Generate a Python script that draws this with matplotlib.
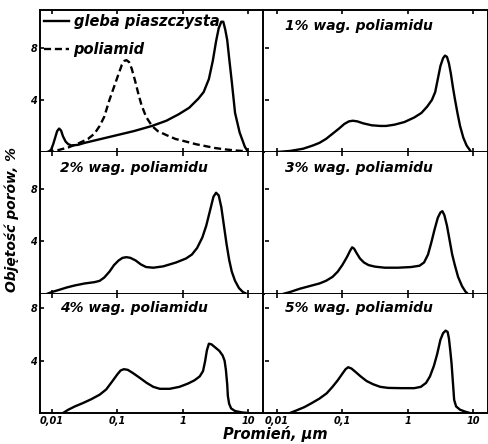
import numpy as np
import matplotlib
matplotlib.use("Agg")
from matplotlib import pyplot as plt
from matplotlib.ticker import FixedLocator, NullLocator

# log10 of pore radius (um) and pore volume (%)
soil_lg = [-2.05, -2.01, -1.98, -1.95, -1.92, -1.89, -1.86, -1.83, -1.79, -1.75, -1.70,
           -1.6, -1.5, -1.25, -1.0, -0.75, -0.47, -0.25, -0.06, 0.1, 0.24, 0.32, 0.40,
           0.46, 0.51, 0.55, 0.59, 0.62, 0.65, 0.68, 0.71, 0.75, 0.80, 0.87, 0.95, 1.0]
soil_v = [0, 0.2, 0.6, 1.1, 1.6, 1.8, 1.65, 1.2, 0.8, 0.6, 0.5,
          0.55, 0.7, 1.0, 1.3, 1.6, 2.0, 2.4, 2.9, 3.4, 4.1, 4.6, 5.6,
          7.0, 8.5, 9.5, 10.0, 10.0, 9.4, 8.6, 7.2, 5.4, 3.0, 1.5, 0.4, 0]

pa_lg = [-2.08, -1.9, -1.75, -1.6, -1.45, -1.35, -1.27, -1.2, -1.12, -1.05, -0.98,
         -0.93, -0.89, -0.86, -0.82, -0.78, -0.73, -0.68, -0.63, -0.56, -0.47, -0.38,
         -0.25, -0.11, 0.05, 0.2, 0.35, 0.5, 0.65, 0.8, 1.0]
pa_v = [0, 0.15, 0.35, 0.65, 1.0, 1.4, 2.0, 2.7, 4.0, 5.0, 6.0,
        6.7, 7.0, 7.05, 6.9, 6.4, 5.5, 4.5, 3.6, 2.7, 2.0, 1.6,
        1.3, 1.0, 0.8, 0.6, 0.45, 0.3, 0.2, 0.12, 0.05]

p1_lg = [-2.0, -1.8, -1.6, -1.45, -1.35, -1.25, -1.15, -1.05, -0.97, -0.9, -0.84,
         -0.77, -0.68, -0.55, -0.42, -0.33, -0.2, -0.05, 0.1, 0.21, 0.3, 0.37, 0.42,
         0.46, 0.50, 0.54, 0.57, 0.60, 0.63, 0.66, 0.69, 0.72, 0.76, 0.8, 0.85, 0.9, 0.97]
p1_v = [0, 0.08, 0.25, 0.5, 0.7, 1.0, 1.4, 1.8, 2.15, 2.35, 2.4,
        2.35, 2.2, 2.05, 2.0, 2.0, 2.1, 2.3, 2.65, 3.0, 3.5, 4.0, 4.6,
        5.6, 6.6, 7.2, 7.4, 7.3, 6.8, 6.0, 5.0, 4.1, 3.0, 2.0, 1.1, 0.5, 0]

p2_lg = [-2.08, -2.0, -1.9, -1.77, -1.65, -1.5, -1.35, -1.27, -1.2, -1.12, -1.05,
         -0.98, -0.92, -0.86, -0.8, -0.72, -0.64, -0.56, -0.45, -0.3, -0.1, 0.05,
         0.14, 0.22, 0.3, 0.36, 0.42, 0.47, 0.51, 0.55, 0.59, 0.63, 0.67, 0.71,
         0.75, 0.8, 0.86, 0.92, 0.98]
p2_v = [0, 0.15, 0.3, 0.5, 0.65, 0.8, 0.9, 1.0, 1.25, 1.7, 2.2,
        2.55, 2.75, 2.8, 2.75, 2.55, 2.25, 2.05, 2.0, 2.1, 2.4, 2.7,
        3.0, 3.5, 4.3, 5.2, 6.4, 7.4, 7.7, 7.5, 6.6, 5.2, 3.8, 2.6,
        1.7, 1.0, 0.45, 0.15, 0]

p3_lg = [-1.91, -1.8, -1.65, -1.5, -1.35, -1.25, -1.15, -1.07, -1.0, -0.93, -0.88,
         -0.85, -0.82, -0.78, -0.73, -0.67, -0.6, -0.5, -0.35, -0.15, 0.05, 0.18,
         0.25, 0.31, 0.36, 0.41, 0.46, 0.5, 0.53, 0.56, 0.6, 0.64, 0.68, 0.72,
         0.77, 0.83, 0.88, 0.92]
p3_v = [0, 0.15, 0.4, 0.6, 0.8, 1.0, 1.3, 1.7, 2.2, 2.8, 3.3,
        3.55, 3.45, 3.1, 2.7, 2.4, 2.2, 2.08, 2.0, 2.0, 2.05, 2.15,
        2.4, 3.0, 3.9, 4.9, 5.8, 6.2, 6.3, 6.0, 5.2, 4.1, 3.0, 2.2,
        1.3, 0.6, 0.2, 0]

p4_lg = [-1.83, -1.75, -1.65, -1.53, -1.4, -1.27, -1.17, -1.08, -1.0, -0.95, -0.9,
         -0.84, -0.76, -0.66, -0.55, -0.45, -0.35, -0.2, -0.05, 0.08, 0.18, 0.26,
         0.31, 0.34, 0.37, 0.4, 0.44, 0.5, 0.56, 0.61, 0.64, 0.66, 0.68, 0.69,
         0.71, 0.74, 0.8, 0.9, 1.0]
p4_v = [0, 0.25, 0.5, 0.75, 1.05, 1.4, 1.8, 2.4, 2.95, 3.25, 3.35,
        3.3, 3.05, 2.7, 2.3, 2.0, 1.85, 1.85, 2.0, 2.25, 2.5, 2.8,
        3.2, 3.9, 4.8, 5.3, 5.25, 5.0, 4.75, 4.4, 4.0, 3.3, 2.2, 1.3,
        0.7, 0.35, 0.15, 0.05, 0]

p5_lg = [-1.8, -1.7, -1.58, -1.47, -1.35, -1.24, -1.15, -1.07, -1.0, -0.95, -0.91,
         -0.86, -0.8, -0.72, -0.63, -0.53, -0.42, -0.3, -0.1, 0.1, 0.2, 0.28,
         0.34, 0.4, 0.45, 0.5, 0.54, 0.58, 0.61, 0.63, 0.65, 0.67, 0.69, 0.71,
         0.74, 0.8, 0.88, 0.95]
p5_v = [0, 0.2, 0.45, 0.75, 1.1, 1.5, 2.0, 2.5, 3.0, 3.35, 3.5,
        3.4, 3.15, 2.8, 2.45, 2.2, 2.0, 1.92, 1.9, 1.9, 2.0, 2.3,
        2.8, 3.6, 4.5, 5.6, 6.1, 6.3, 6.2, 5.7, 4.8, 3.8, 2.4, 1.0,
        0.5, 0.25, 0.1, 0]

titles = [None, "1% wag. poliamidu", "2% wag. poliamidu",
          "3% wag. poliamidu", "4% wag. poliamidu", "5% wag. poliamidu"]
xticks = [0.01, 0.1, 1, 10]
xticklabels = ["0,01", "0,1", "1", "10"]
yticks = [4, 8]

font = dict(family="DejaVu Sans", weight="bold", style="italic")

fig = plt.figure(figsize=(4.88, 4.44), dpi=100)
W, H = 488.0, 444.0
col_x = [40, 265]
col_w = 223
row_y = [(10, 152), (152, 294), (294, 413)]
ytops = [10.9, 10.8, 9.1]

series = [[(soil_lg, soil_v, "-"), (pa_lg, pa_v, "--")],
          [(p1_lg, p1_v, "-")],
          [(p2_lg, p2_v, "-")],
          [(p3_lg, p3_v, "-")],
          [(p4_lg, p4_v, "-")],
          [(p5_lg, p5_v, "-")]]

axes = []
for i in range(6):
    r, c = divmod(i, 2)
    top, bot = row_y[r]
    ax = fig.add_axes([col_x[c] / W, 1 - bot / H, col_w / W, (bot - top) / H])
    for lg, v, ls in series[i]:
        if ls == "--":
            ax.plot(10 ** np.array(lg), v, color="black", lw=1.7, ls=ls, dashes=(3, 1.6))
        else:
            ax.plot(10 ** np.array(lg), v, color="black", lw=1.7, ls=ls)
    ax.set_xscale("log")
    ax.set_xlim(10 ** (-2 - 12 / 66), 10 ** (1 + 15 / 66))
    ax.set_ylim(0, ytops[r])
    ax.xaxis.set_major_locator(FixedLocator(xticks))
    ax.xaxis.set_minor_locator(NullLocator())
    ax.set_yticks(yticks)
    ax.tick_params(direction="in", length=3, width=1.2, top=True, right=False,
                   labelsize=7, pad=2)
    if r == 2:
        ax.set_xticklabels(xticklabels, fontdict=font)
    else:
        ax.set_xticklabels([])
    if c == 0:
        ax.set_yticklabels([str(t) for t in yticks], fontdict=font)
    else:
        ax.set_yticklabels([])
        ax.spines["left"].set_visible(False)
    if r > 0:
        ax.spines["top"].set_visible(False)
    for s in ax.spines.values():
        s.set_linewidth(1.4)
    if titles[i]:
        ax.text(0.09, 0.885, titles[i], transform=ax.transAxes, fontsize=10,
                va="center", ha="left", **font)
    axes.append(ax)

leg = axes[0].legend(["gleba piaszczysta", "poliamid"], loc="upper left",
                     frameon=False, prop=dict(size=10.5, weight="bold", style="italic"),
                     handlelength=1.7, handletextpad=0.3, borderaxespad=0.2,
                     borderpad=0.1, labelspacing=0.85)

fig.text(0.025, 0.505, "Objętość porów, %", rotation=90, ha="center", va="center",
         fontsize=10, **font)
fig.text(0.565, 0.022, "Promień, µm", ha="center", va="center", fontsize=10.5, **font)

fig.savefig("out.png", dpi=100)
